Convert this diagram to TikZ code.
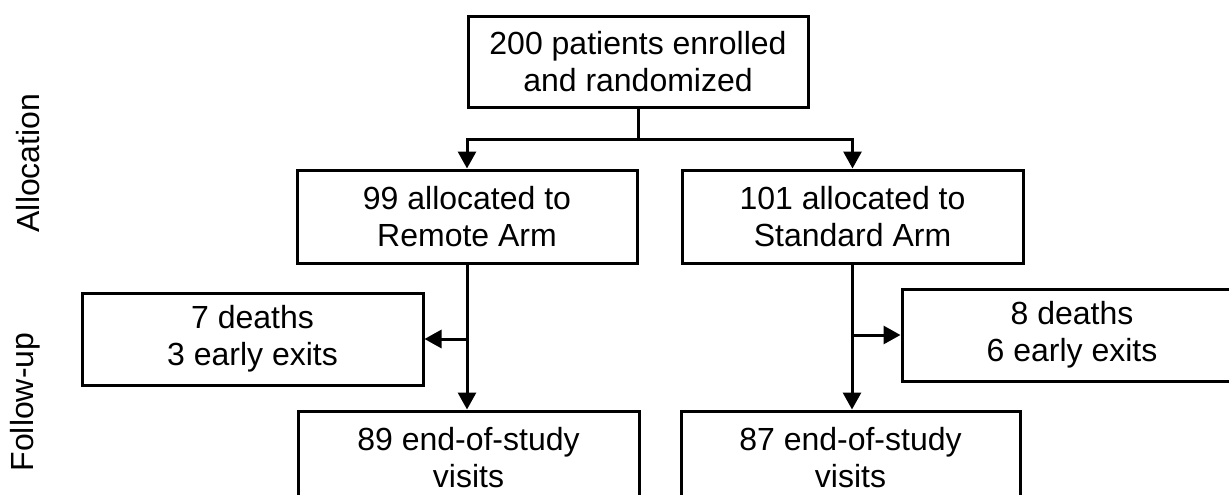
\documentclass[tikz,border=0pt]{standalone}
\usepackage{fontspec}
\setmainfont{Liberation Sans}
\usetikzlibrary{arrows.meta}
\begin{document}
\begin{tikzpicture}[x=1pt, y=-1pt,
  box/.style={draw, line width=3pt, inner sep=0pt, align=center,
    minimum width=340pt, minimum height=92pt,
    font=\fontsize{32}{37}\selectfont},
  phase/.style={rotate=90, font=\fontsize{32}{37}\selectfont},
  flow/.style={line width=3pt, -{Triangle[length=17pt,width=18pt]}},
  link/.style={line width=3pt}]
\useasboundingbox (0,0) rectangle (1229,495);
\clip (0,0) rectangle (1229,495);

% phase labels
\node[phase] (lblAlloc) at (28,163) {Allocation};
\node[phase] (lblFollow) at (25,402) {Follow-up};

% boxes
\node[box, minimum height=90pt] (top) at (638,62) {200 patients enrolled\\and randomized};
\node[box, minimum height=93pt] (remote) at (467,216.5) {99 allocated to\\Remote Arm};
\node[box, minimum height=93pt, minimum width=341pt] (standard) at (852.5,216.5) {101 allocated to\\Standard Arm};
\node[box, minimum width=341pt] (exitL) at (252.5,339) {7 deaths\\3 early exits};
\node[box] (exitR) at (1072,335) {8 deaths\\6 early exits};
\node[box, minimum height=93pt, minimum width=341pt] (endL) at (468.5,457.5) {89 end-of-study\\visits};
\node[box, minimum height=93pt, minimum width=339pt] (endR) at (850.5,457.5) {87 end-of-study\\visits};

% randomization split
\coordinate (split) at (638,139);
\draw[link] (top.south) -- (split);
\draw[flow] (split) -| (remote.north);
\draw[flow] (split) -| (standard.north);

% remote arm follow-up
\coordinate (brL) at (467,339);
\draw[flow] (remote.south) -- (remote.south |- endL.north);
\draw[flow] (brL) -- (exitL.east);

% standard arm follow-up
\coordinate (brR) at (852,335);
\draw[flow] (standard.south -| brR) -- (brR |- endR.north);
\draw[flow] (brR) -- (exitR.west);
\end{tikzpicture}
\end{document}
